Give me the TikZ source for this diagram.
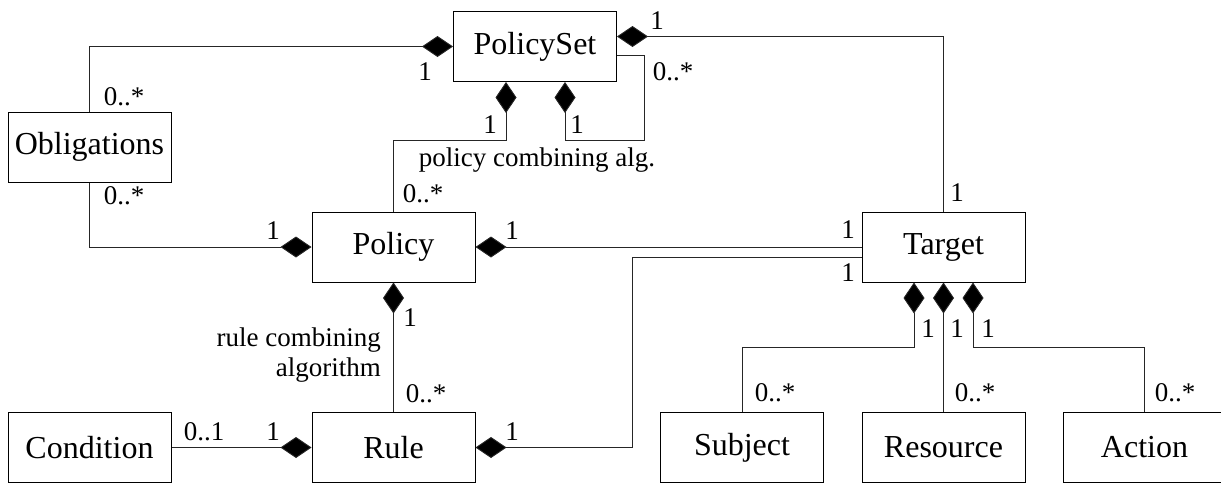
\documentclass[tikz,border=0pt]{standalone}
\usepackage{fontspec}
\setmainfont{Liberation Serif}
\newfontfamily\umlfont{Liberation Serif}
\usetikzlibrary{arrows.meta}
\begin{document}
\begin{tikzpicture}[x=1pt,y=-1pt,
  cls/.style={draw, line width=1pt, minimum width=163pt, minimum height=70pt,
    inner sep=0pt, font=\umlfont\fontsize{32}{36}\selectfont},
  comp/.style={line width=0.9pt, draw=black!85, {Diamond[length=31pt,width=21pt,fill=black]}-},
  mult/.style={inner sep=0pt, font=\umlfont\fontsize{27}{30}\selectfont}]
\useasboundingbox (0,0) rectangle (1221,482);

% classes
\node[cls] (PolicySet)   at (535,46.5)   {PolicySet};
\node[cls] (Obligations) at (89.5,147)   {Obligations};
\node[cls] (Policy)      at (393.5,247)  {Policy};
\node[cls] (Target)      at (943.5,247)  {Target};
\node[cls] (Rule)        at (393.5,447.5){Rule};
\node[cls] (Condition)   at (89.5,447.5) {Condition};
\node[cls] (Subject)     at (742,447.5)  {Subject};
\node[cls] (Resource)    at (943.5,447.5){Resource};
\node[cls] (Action)      at (1144.5,447.5){Action};

% bend points
\coordinate (loop) at (644,140);
\coordinate (ruleup) at (632,257);

% compositions
\draw[comp] (PolicySet.west) -| (Obligations.north);
\draw[comp] (Policy.west) -| (Obligations.south);
\draw[comp] ([xshift=-29pt]PolicySet.south) -- ++(0,58) -| (Policy.north);
\draw[comp] ([xshift=30pt]PolicySet.south) |- (loop) |- ([yshift=-9pt]PolicySet.east);
\draw[comp] ([yshift=10pt]PolicySet.east) -| (Target.north);
\draw[comp] (Policy.east) -- (Target.west);
\draw[comp] (Policy.south) -- (Rule.north);
\draw[comp] (Rule.west) -- (Condition.east);
\draw[comp] (Rule.east) -| (ruleup) -- (ruleup -| Target.west);
\draw[comp] ([xshift=-29.5pt]Target.south) -- ++(0,65) -| (Subject.north);
\draw[comp] (Target.south) -- (Resource.north);
\draw[comp] ([xshift=29.5pt]Target.south) -- ++(0,65) -| (Action.north);

% multiplicities and role names
\node[mult] (m1)  at (657,21)   {1};
\node[mult] (m2)  at (673,72)   {0..*};
\node[mult] (m3)  at (425,72)   {1};
\node[mult] (m4)  at (124,97)   {0..*};
\node[mult] (m5)  at (124,196)  {0..*};
\node[mult] (m6)  at (490,125)  {1};
\node[mult] (m7)  at (577,125)  {1};
\node[mult] (pca) at (537,160)  {policy combining alg.};
\node[mult] (m8)  at (423,194)  {0..*};
\node[mult] (m9)  at (273,231)  {1};
\node[mult] (m10) at (512,231)  {1};
\node[mult] (m11) at (848,230)  {1};
\node[mult] (m12) at (957,193)  {1};
\node[mult] (m13) at (848,273)  {1};
\node[mult] (m14) at (410,318)  {1};
\node[mult,anchor=east] (rca1) at (381,340) {rule combining};
\node[mult,anchor=east] (rca2) at (381,370) {algorithm};
\node[mult] (m15) at (426,394)  {0..*};
\node[mult] (m16) at (204,432)  {0..1};
\node[mult] (m17) at (273,432)  {1};
\node[mult] (m18) at (512,432)  {1};
\node[mult] (m19) at (928,329)  {1};
\node[mult] (m20) at (957,329)  {1};
\node[mult] (m21) at (988,329)  {1};
\node[mult] (m22) at (775,393)  {0..*};
\node[mult] (m23) at (975,393)  {0..*};
\node[mult] (m24) at (1175,393) {0..*};
\end{tikzpicture}
\end{document}
